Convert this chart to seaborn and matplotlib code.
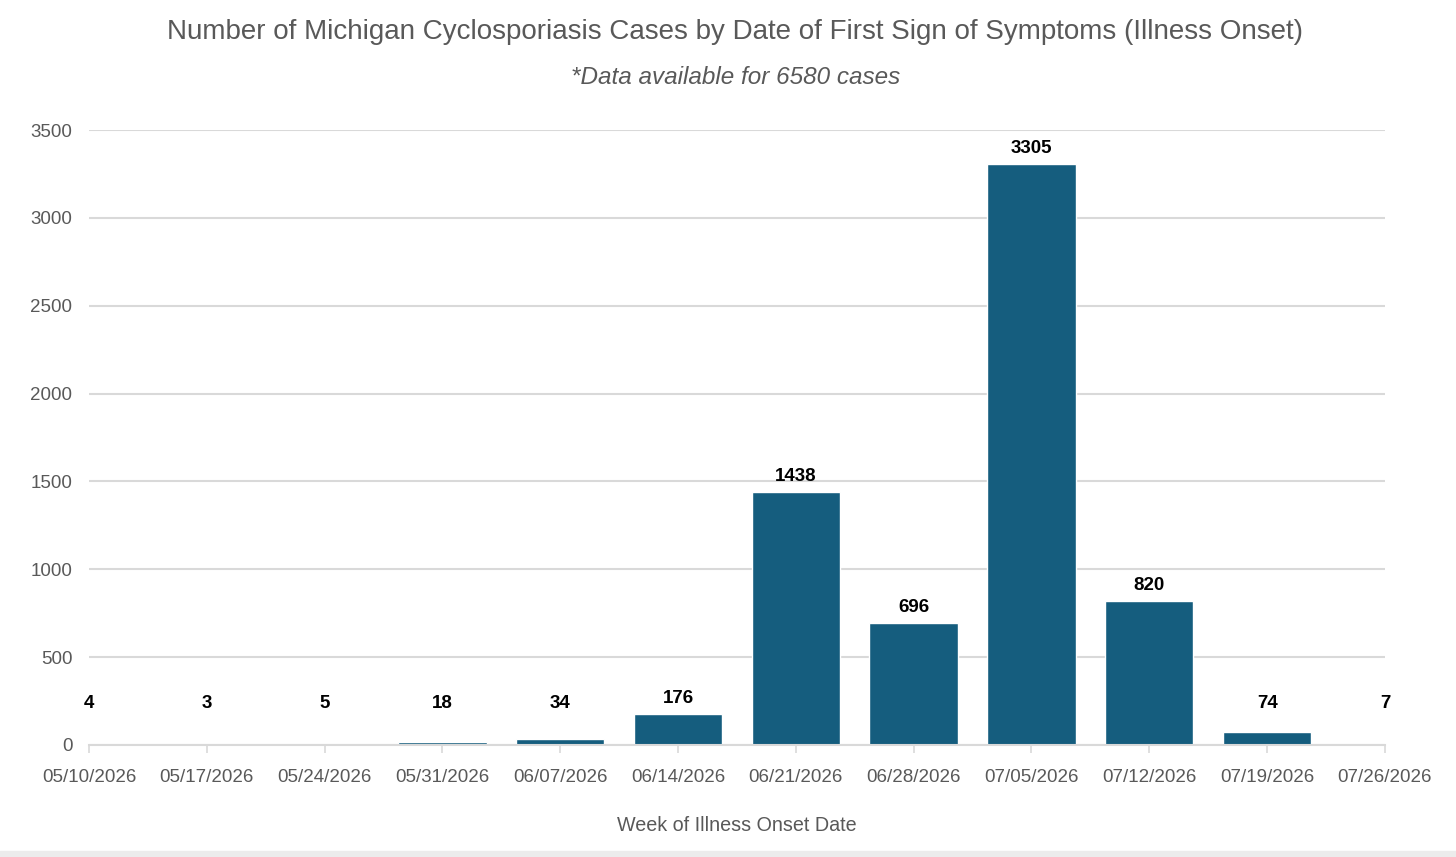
import matplotlib
matplotlib.use("Agg")
import matplotlib.pyplot as plt
import seaborn as sns
import pandas as pd

# data
weeks = ["05/10/2026", "05/17/2026", "05/24/2026", "05/31/2026", "06/07/2026", "06/14/2026",
         "06/21/2026", "06/28/2026", "07/05/2026", "07/12/2026", "07/19/2026", "07/26/2026"]
cases = [4, 3, 5, 18, 34, 176, 1438, 696, 3305, 820, 74, 7]
yticks = [0, 500, 1000, 1500, 2000, 2500, 3000, 3500]

title = "Number of Michigan Cyclosporiasis Cases by Date of First Sign of Symptoms (Illness Onset)"
subtitle = "*Data available for 6580 cases"
xlabel = "Week of Illness Onset Date"

df = pd.DataFrame({"week": weeks, "cases": cases})

sns.set_style("white")
plt.rcParams["font.family"] = ["Liberation Sans", "DejaVu Sans"]

bar_color = "#155d7e"
grid_color = "#d9d9d9"
text_gray = "#595959"

fig = plt.figure(figsize=(14.56, 8.57), dpi=100)
ax = fig.add_axes([0.0611, 0.1307, 0.8901, 0.7176])

sns.barplot(data=df, x="week", y="cases", order=weeks, color=bar_color,
            width=0.75, saturation=1, ax=ax, zorder=3)

ax.set_xlim(0, len(weeks) - 1)
ax.set_ylim(0, 3500)
ax.set_yticks(yticks)
ax.set_yticklabels([str(t) for t in yticks], color=text_gray, fontsize=13.5)
ax.set_xticks(range(len(weeks)))
ax.set_xticklabels(weeks, color=text_gray, fontsize=13.5)

ax.grid(axis="y", color=grid_color, linewidth=1.5, zorder=0)
for s in ["top", "right", "left"]:
    ax.spines[s].set_visible(False)
ax.spines["bottom"].set_color(grid_color)
ax.spines["bottom"].set_linewidth(1.5)
ax.spines["bottom"].set_zorder(4)
ax.tick_params(axis="x", length=6, width=1.2, color=grid_color, pad=11, bottom=True)
ax.tick_params(axis="y", length=0, pad=12)

ax.set_xlabel(xlabel, color=text_gray, fontsize=14.2, labelpad=22)
ax.set_ylabel("")

# value labels; tiny bars get their label lifted a little like the original
for i, v in enumerate(cases):
    ax.annotate(str(v), (i, max(v, 150)), xytext=(0, 5), textcoords="offset points",
                ha="center", va="bottom", fontsize=13.5, fontweight="bold",
                color="black", clip_on=False, zorder=5)

fig.text(0.505, 0.963, title, ha="center", va="center", fontsize=20,
         color=text_gray)
fig.text(0.505, 0.909, subtitle, ha="center", va="center", fontsize=17.5,
         color=text_gray, style="italic")

# faint grey strip along the bottom edge of the screenshot
fig.patches.append(plt.Rectangle((0, 0), 1, 0.007, transform=fig.transFigure,
                                 color="#ececec", zorder=0))

fig.savefig("out.png", dpi=100, facecolor="white")
